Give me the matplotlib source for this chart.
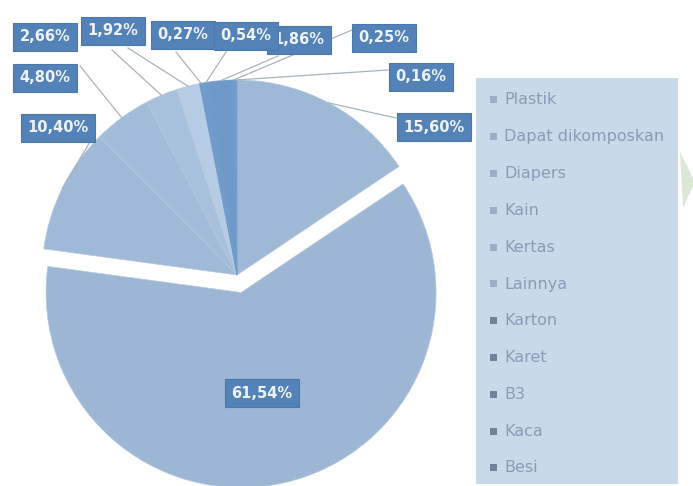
import matplotlib

matplotlib.use("Agg")
import matplotlib.pyplot as plt
import numpy as np
from matplotlib.patches import Rectangle, Polygon

# komposisi sampah (%)
categories = ["Plastik", "Dapat dikomposkan", "Diapers", "Kain", "Kertas",
              "Lainnya", "Karton", "Karet", "B3", "Kaca", "Besi"]
values = [15.60, 61.54, 10.40, 4.80, 2.66, 1.92, 0.27, 0.54, 1.86, 0.25, 0.16]
labels = ["15,60%", "61,54%", "10,40%", "4,80%", "2,66%", "1,92%",
          "0,27%", "0,54%", "1,86%", "0,25%", "0,16%"]

colors = ["#9fb8d6", "#9cb6d4", "#a0b9d7", "#a3bcd9", "#a7c0dc", "#b6cce4",
          "#6f9bcb", "#6f9bcb", "#6e9aca", "#6f9bcb", "#729dcb"]

W, H = 693, 486
fig = plt.figure(figsize=(W / 100, H / 100), dpi=100)
ax = fig.add_axes([0, 0, 1, 1])

cx, cy, R = 237, H - 275, 195
# explode dalam satuan data (piksel), bukan fraksi jari-jari
explode = [0, 18, 0, 0, 0, 0, 0, 0, 0, 0, 0]
wedges, _ = ax.pie(values, colors=colors, explode=explode, startangle=90,
                   counterclock=False, center=(cx, cy), radius=R, frame=True,
                   wedgeprops=dict(edgecolor="#b3c8df", linewidth=0.5))
# irisan gelap kecil tanpa garis tepi terang
for w in wedges[6:]:
    w.set_edgecolor(w.get_facecolor())
ax.set_xlim(0, W)
ax.set_ylim(0, H)
ax.set_aspect("equal")
ax.axis("off")

# kotak label (pixel dari kiri-atas)
label_pos = {
    "Plastik": (434, 127), "Dapat dikomposkan": (262, 393),
    "Diapers": (58, 128), "Kain": (45, 78), "Kertas": (45, 37),
    "Lainnya": (113, 31), "Karton": (183, 35), "Karet": (246, 36),
    "B3": (299, 40), "Kaca": (384, 38), "Besi": (421, 77),
}
anchor = {
    "Plastik": (396, 118), "Diapers": (90, 142), "Kain": (80, 66),
    "Kertas": (112, 50), "Lainnya": (128, 48), "Karton": (176, 52),
    "Karet": (226, 52), "B3": (278, 56), "Kaca": (352, 30),
    "Besi": (388, 70),
}
z_order = {"B3": 5, "Karet": 6}

for w, cat, lab in zip(wedges, categories, labels):
    x, y = label_pos[cat]
    if cat in anchor:
        mid = np.deg2rad((w.theta1 + w.theta2) / 2)
        ex = cx + R * np.cos(mid)
        ey = cy + R * np.sin(mid)
        ax_, ay_ = anchor[cat]
        ax.plot([ax_, ex], [H - ay_, ey], color="#a9b3bd", lw=0.9, zorder=3)
    ax.text(x, H - y, lab, ha="center", va="center", fontsize=10.5,
            fontweight="bold", color="#eef3fa", zorder=z_order.get(cat, 4),
            bbox=dict(boxstyle="square,pad=0.45", facecolor="#5282b7",
                      edgecolor="#4a78aa", linewidth=0.8))

# legenda
ax.add_patch(Rectangle((476, H - 484), 202, 406, facecolor="#c9d9ea",
                       edgecolor="none", zorder=1))
for i, cat in enumerate(categories):
    y = H - (100 + i * 36.8)
    mk = "#9aafc6" if i < 6 else "#6f8499"
    ax.add_patch(Rectangle((490, y - 3.5), 7, 7, facecolor=mk,
                           edgecolor="none", zorder=2))
    ax.text(504, y, cat, ha="left", va="center", fontsize=11.5,
            color="#889db5", zorder=2)

# tanda air
ax.add_patch(Polygon([(680, H - 152), (693, H - 178), (693, H - 186),
                      (683, H - 208)], closed=True, facecolor="#dbe8d5",
                     edgecolor="none", zorder=0))

fig.savefig("out.png", dpi=100)
